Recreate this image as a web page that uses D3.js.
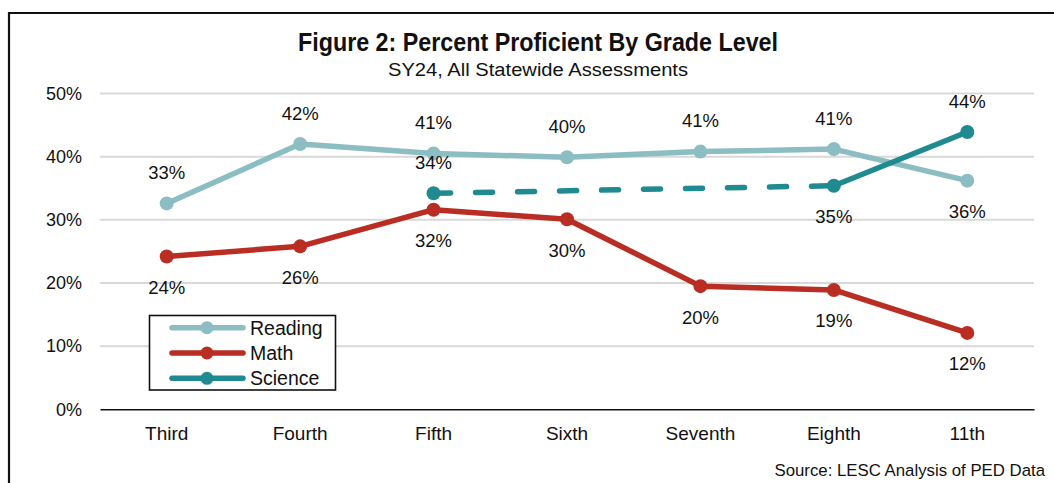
<!DOCTYPE html>
<html>
<head>
<meta charset="utf-8">
<script src="https://cdn.jsdelivr.net/npm/d3@7"></script>
<style>
  body { margin: 0; background: #fff; }
  svg text { font-family: "Liberation Sans", Arial, sans-serif; fill: #111; }
</style>
</head>
<body>
<div id="chart"></div>
<script>
var grades = ["Third", "Fourth", "Fifth", "Sixth", "Seventh", "Eighth", "11th"];
var reading = [32.6, 42.0, 40.5, 39.9, 40.8, 41.2, 36.2];
var math = [24.2, 25.8, 31.6, 30.1, 19.5, 18.9, 12.1];
var science = [null, null, 34.2, null, null, 35.4, 43.9];
var yTicks = [0, 10, 20, 30, 40, 50];

// label placement: -1 above point, +1 below
var readingPos = [-1, -1, -1, -1, -1, -1, 1];
var mathPos = [1, 1, 1, 1, 1, 1, 1];
var sciencePos = [0, 0, -1, 0, 0, 1, -1];

var series = [
    { name: "Reading", values: reading, pos: readingPos, color: "#8bbdc3" },
    { name: "Math", values: math, pos: mathPos, color: "#b92d22" },
    { name: "Science", values: science, pos: sciencePos, color: "#1f8a90" }
];

var fullWidth = 1054, fullHeight = 483;

var svg = d3.select("#chart").append("svg")
    .attr("width", fullWidth)
    .attr("height", fullHeight);

// frame
svg.append("path")
    .attr("d", "M9,483 V13 H1054")
    .attr("fill", "none")
    .attr("stroke", "#111")
    .attr("stroke-width", 2.2);

svg.append("text")
    .attr("x", 538).attr("y", 51)
    .attr("text-anchor", "middle")
    .attr("textLength", 480)
    .attr("lengthAdjust", "spacingAndGlyphs")
    .style("font-weight", "bold")
    .style("font-size", "26px")
    .text("Figure 2: Percent Proficient By Grade Level");

svg.append("text")
    .attr("x", 538).attr("y", 76)
    .attr("text-anchor", "middle")
    .attr("textLength", 300)
    .attr("lengthAdjust", "spacingAndGlyphs")
    .style("font-size", "18px")
    .text("SY24, All Statewide Assessments");

var x = d3.scaleBand()
    .domain(grades)
    .range([100, 1034]);

var y = d3.scaleLinear()
    .domain([0, 50])
    .range([409.3, 93.5]);

// gridlines
svg.append("g")
    .selectAll("line")
    .data(yTicks.filter(d => d > 0))
    .enter().append("line")
    .attr("x1", 100).attr("x2", 1034)
    .attr("y1", d => y(d)).attr("y2", d => y(d))
    .attr("stroke", "#d9d9d9")
    .attr("stroke-width", 2);

// y axis labels
var yAxis = svg.append("g")
    .attr("transform", "translate(82,0)")
    .call(d3.axisLeft(y).tickValues(yTicks).tickFormat(d => d + "%").tickSize(0).tickPadding(0));
yAxis.select(".domain").remove();
yAxis.selectAll("text")
    .style("font-size", "18px")
    .style("font-family", "'Liberation Sans', Arial, sans-serif")
    .attr("fill", "#111");

// x axis
var xAxis = svg.append("g")
    .attr("transform", "translate(0," + y(0) + ")")
    .call(d3.axisBottom(x).tickSize(0).tickPadding(17));
xAxis.select(".domain")
    .attr("stroke", "#111")
    .attr("stroke-width", 1.6);
xAxis.selectAll("text")
    .style("font-size", "19px")
    .style("font-family", "'Liberation Sans', Arial, sans-serif")
    .attr("fill", "#111");

var cx = d => x(d) + x.bandwidth() / 2;

var line = d3.line()
    .defined(d => d.v !== null)
    .x(d => cx(d.g))
    .y(d => y(d.v));

series.forEach(function (s) {
    var pts = grades.map((g, i) => ({ g: g, v: s.values[i], p: s.pos[i] }));
    var defined = pts.filter(d => d.v !== null);

    // dashed bridge across gaps in the data
    for (var i = 1; i < defined.length; i++) {
        var a = grades.indexOf(defined[i - 1].g), b = grades.indexOf(defined[i].g);
        if (b - a > 1) {
            svg.append("path")
                .datum([defined[i - 1], defined[i]])
                .attr("d", line)
                .attr("fill", "none")
                .attr("stroke", s.color)
                .attr("stroke-width", 5.5)
                .attr("stroke-linecap", "round")
                .attr("stroke-dasharray", "17,25");
        }
    }

    svg.append("path")
        .datum(pts)
        .attr("d", line)
        .attr("fill", "none")
        .attr("stroke", s.color)
        .attr("stroke-width", 5.5)
        .attr("stroke-linejoin", "round");

    svg.append("g")
        .selectAll("circle")
        .data(defined)
        .enter().append("circle")
        .attr("cx", d => cx(d.g))
        .attr("cy", d => y(d.v))
        .attr("r", 7)
        .attr("fill", s.color);

    svg.append("g")
        .selectAll("text")
        .data(defined)
        .enter().append("text")
        .attr("x", d => cx(d.g))
        .attr("y", d => y(d.v) + d.p * 31 + 6.5)
        .attr("text-anchor", "middle")
        .style("font-size", "18.5px")
        .text(d => Math.round(d.v) + "%");
});

// legend
var legend = svg.append("g");
legend.append("rect")
    .attr("x", 149.5).attr("y", 315.5)
    .attr("width", 186).attr("height", 74.5)
    .attr("fill", "#fff")
    .attr("stroke", "#111")
    .attr("stroke-width", 1.6);

series.forEach(function (s, i) {
    var ly = 327.7 + i * 25.3;
    legend.append("line")
        .attr("x1", 172).attr("x2", 243)
        .attr("y1", ly).attr("y2", ly)
        .attr("stroke", s.color)
        .attr("stroke-width", 5.5)
        .attr("stroke-linecap", "round");
    legend.append("circle")
        .attr("cx", 207).attr("cy", ly)
        .attr("r", 6.5)
        .attr("fill", s.color);
    legend.append("text")
        .attr("x", 250).attr("y", ly + 7)
        .style("font-size", "19.5px")
        .text(s.name);
});

svg.append("text")
    .attr("x", 1045).attr("y", 476)
    .attr("text-anchor", "end")
    .style("font-size", "16.8px")
    .text("Source: LESC Analysis of PED Data");
</script>
</body>
</html>
